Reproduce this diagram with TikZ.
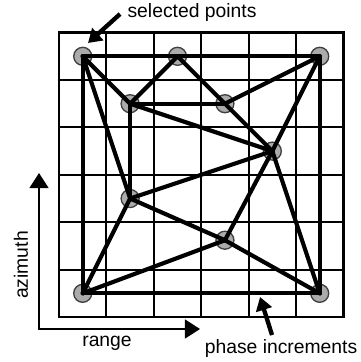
\documentclass[tikz,border=0pt]{standalone}
\usepackage{fontspec}
\setmainfont{Liberation Sans}
\usetikzlibrary{arrows.meta}

\tikzset{
  selpt/.style={circle,draw=black!75,fill=black!33,line width=0.8pt,minimum size=0.38cm,inner sep=0pt},
  link/.style={line width=2.5pt,line cap=round},
  lbl/.style={font=\fontsize{11.6}{13}\selectfont,inner sep=0pt},
  axis/.style={line width=1.2pt,{Triangle[length=0.32cm,width=0.4cm]}-{Triangle[length=0.32cm,width=0.4cm]}},
  callout/.style={line width=2.6pt,-{Triangle[length=0.28cm,width=0.34cm]}},
}

\begin{document}
\begin{tikzpicture}[x=1cm,y=1cm]
\useasboundingbox (-1.245,-0.949) rectangle (6.350,6.688);
% phase grid
\draw[line width=1.1pt] (0,0) grid (6,6);
\draw[line width=1.5pt] (0,0) rectangle (6,6);
% selected points
\node[selpt] (p1) at (0.5,5.5) {};
\node[selpt] (p2) at (2.5,5.5) {};
\node[selpt] (p3) at (5.5,5.5) {};
\node[selpt] (p4) at (1.5,4.5) {};
\node[selpt] (p5) at (3.5,4.5) {};
\node[selpt] (p6) at (4.5,3.5) {};
\node[selpt] (p7) at (1.5,2.5) {};
\node[selpt] (p8) at (3.5,1.62) {};
\node[selpt] (p9) at (0.5,0.5) {};
\node[selpt] (p10) at (5.5,0.5) {};
\foreach \a/\b in {p1/p3,p1/p9,p1/p4,p1/p7,p2/p4,p2/p6,p4/p5,p4/p7,p4/p6,p5/p3,
                   p3/p6,p3/p10,p6/p7,p6/p8,p6/p10,p7/p8,p7/p9,p9/p8,p8/p10,p9/p10}
  \draw[link] (\a.center) -- (\b.center);
% axes
\coordinate (o) at (-0.422,-0.253);
\coordinate (az) at (-0.422,3.038);
\coordinate (rg) at (2.975,-0.253);
\draw[axis] (az) -- (o) -- (rg);
\node[lbl,rotate=90] (aztext) at (-0.802,1.097) {azimuth};
\node[lbl] (rgtext) at (1.013,-0.55) {range};
% labels
\node[lbl] (seltext) at (2.806,6.414) {selected points};
\coordinate (selfrom) at (1.287,6.392);
\coordinate (selto) at (0.612,5.781);
\draw[callout] (selfrom) -- (selto);
\node[lbl] (phtext) at (4.684,-0.66) {phase increments};
\coordinate (phfrom) at (4.494,-0.38);
\coordinate (phto) at (4.241,0.422);
\draw[callout] (phfrom) -- (phto);
\end{tikzpicture}
\end{document}
